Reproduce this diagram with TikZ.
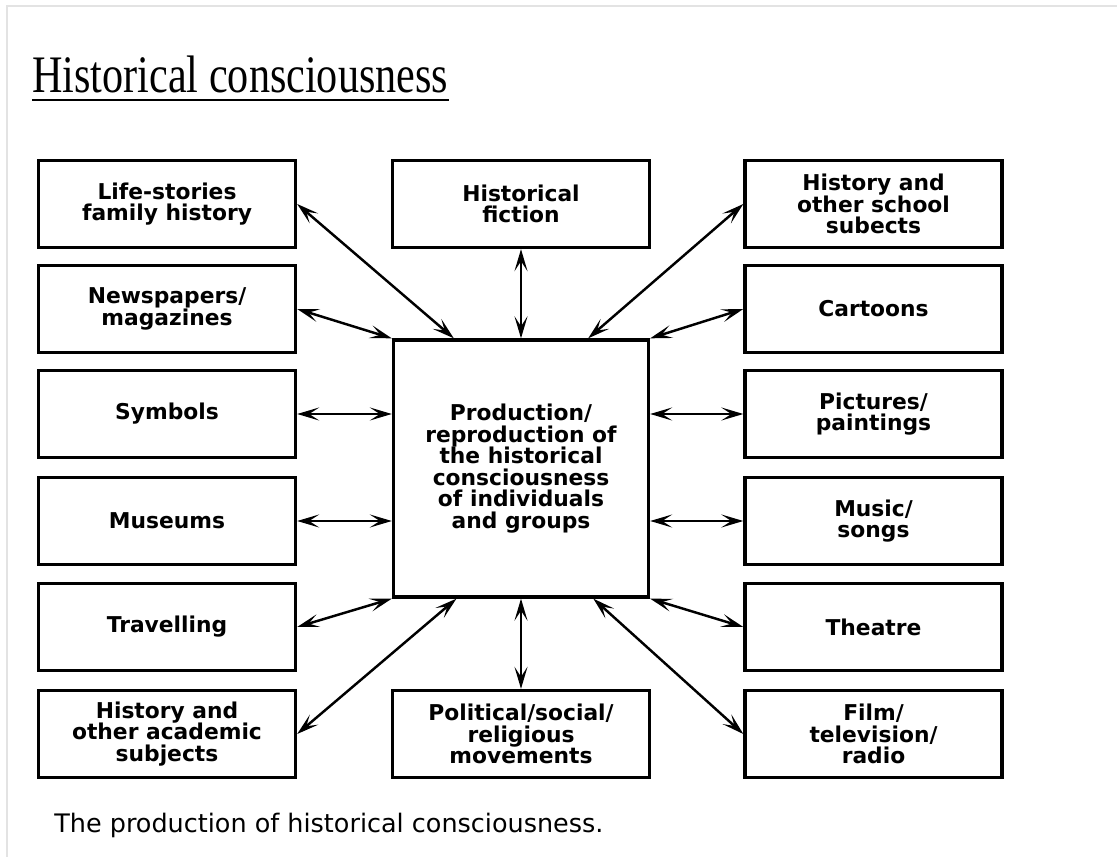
\documentclass[tikz,border=0pt]{standalone}
\usepackage{fontspec}
\usepackage{graphicx}
\setmainfont{Liberation Serif}
\newfontfamily\boxfont{DejaVu Sans}
\newcommand\tightlines{\lineskiplimit=-20pt\relax}
\usetikzlibrary{arrows.meta,positioning,calc}
\tikzset{
  srcbox/.style={draw, line width=1.9pt, minimum width=5.14cm, minimum height=1.74cm,
    align=center, inner sep=2pt,
    font=\boxfont\bfseries\fontsize{12.4}{12.3}\selectfont\tightlines},
  hubbox/.style={srcbox, minimum width=5.10cm, minimum height=5.14cm},
  conn/.style={{Stealth[length=4.4mm,width=2.6mm,inset=2mm]}-{Stealth[length=4.4mm,width=2.6mm,inset=2mm]}, line width=1.4pt},
}

\begin{document}
\begin{tikzpicture}
    \useasboundingbox (0,0) rectangle (22.34,17.14);
    % page frame
    \draw[gray!22, line width=0.6pt] (22.34,17.02) -- (0.14,17.02) -- (0.14,0);
    % title
    \node[anchor=base west, inner sep=0, font=\fontsize{24}{28}\selectfont] (title) at (0.64,15.28) {\scalebox{1}[1.25]{Historical consciousness}};
    \draw[line width=1.3pt] ($(title.base west)+(0,-0.14)$) -- ($(title.base east)+(0,-0.14)$);
    % centre box
    \node[hubbox] (prod) at (10.42,7.77) {Production/\\reproduction of\\the historical\\consciousness\\of individuals\\and groups};
    % left column
    \node[srcbox] (life) at (3.34,13.06) {Life-stories\\family history};
    \node[srcbox] (news) at (3.34,10.96) {Newspapers/\\magazines};
    \node[srcbox] (symb) at (3.34,8.86) {Symbols};
    \node[srcbox] (muse) at (3.34,6.72) {Museums};
    \node[srcbox] (trav) at (3.34,4.60) {Travelling};
    \node[srcbox] (acad) at (3.34,2.46) {History and\\other academic\\subjects};
    % middle column
    \node[srcbox] (fict) at (10.42,13.06) {Historical\\fiction};
    \node[srcbox] (poli) at (10.42,2.46) {Political/social/\\religious\\movements};
    % right column
    \node[srcbox] (scho) at (17.47,13.06) {History and\\other school\\subects};
    \node[srcbox] (cart) at (17.47,10.96) {Cartoons};
    \node[srcbox] (pict) at (17.47,8.86) {Pictures/\\paintings};
    \node[srcbox] (musi) at (17.47,6.72) {Music/\\songs};
    \node[srcbox] (thea) at (17.47,4.60) {Theatre};
    \node[srcbox] (film) at (17.47,2.46) {Film/\\television/\\radio};
    % connectors, left
    \draw[conn] (life.east) -- ($(prod.north west)!0.24!(prod.north east)$);
    \draw[conn] (news.east) -- (prod.north west);
    \draw[conn] (symb.east) -- (symb.east -| prod.west);
    \draw[conn] (muse.east) -- (muse.east -| prod.west);
    \draw[conn] (trav.east) -- (prod.south west);
    \draw[conn] (acad.east) -- ($(prod.south west)!0.25!(prod.south east)$);
    % connectors, middle
    \draw[conn] (fict.south) -- (prod.north);
    \draw[conn] (prod.south) -- (poli.north);
    % connectors, right
    \draw[conn] (scho.west) -- ($(prod.north west)!0.76!(prod.north east)$);
    \draw[conn] (cart.west) -- (prod.north east);
    \draw[conn] (prod.east |- pict.west) -- (pict.west);
    \draw[conn] (prod.east |- musi.west) -- (musi.west);
    \draw[conn] (prod.south east) -- (thea.west);
    \draw[conn] ($(prod.south west)!0.78!(prod.south east)$) -- (film.west);
    % caption
    \node[anchor=base west, inner sep=0, font=\boxfont\fontsize{14.5}{16}\selectfont] (capt) at (1.08,0.50) {The production of historical consciousness.};
\end{tikzpicture}
\end{document}
